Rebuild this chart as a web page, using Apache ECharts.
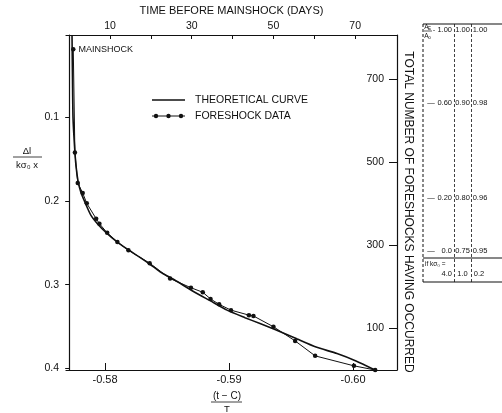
<!DOCTYPE html>
<html><head><meta charset="utf-8">
<script src="https://cdn.jsdelivr.net/npm/echarts@6/dist/echarts.min.js"></script>
<style>html,body{margin:0;padding:0;background:#fff}#c{width:502px;height:413px}</style>
</head><body><div id="c"></div>
<script>
// Theoretical curve: x = (t-C)/T, y = Δl/(kσ0 x)
const theoX = [-0.57734,-0.57738,-0.57742,-0.57754,-0.57766,-0.57782,-0.57806,-0.57839,-0.57887,-0.57944,-0.58016,-0.58097,-0.58177,-0.58282,-0.58363,-0.58444,-0.58565,-0.58710,-0.58847,-0.58984,-0.59129,-0.59250,-0.59371,-0.59532,-0.59702,-0.59871,-0.60024,-0.60177];
const theoY = [0.0015,0.0562,0.1004,0.1337,0.1576,0.1755,0.1898,0.2017,0.2172,0.2280,0.2387,0.2488,0.2571,0.2673,0.2756,0.2846,0.2947,0.3078,0.3191,0.3304,0.3394,0.3465,0.3537,0.3638,0.3746,0.3823,0.3912,0.4020];
// Foreshock data: days before mainshock, total number of foreshocks
const fsDays = [1.0,1.4,2.1,3.3,4.3,6.6,7.4,9.3,11.8,14.5,19.7,24.7,29.8,32.7,34.6,36.7,39.6,44.0,45.1,50.0,55.3,60.2,69.7,74.9];
const fsCount = [772,523,450,426,401,364,352,330,308,288,257,220,198,187,171,158,144,132,130,104,70,34,10,0];
// tick labels
const bottomTicks = [-0.58,-0.59,-0.60];
const leftTicks = [0.1,0.2,0.3,0.4];
const topTicks = [10,20,30,40,50,60,70];
const topLabels = [10,30,50,70];
const rightTicks = [100,300,500,700];
// legend names
const seriesNames = ['THEORETICAL CURVE','FORESHOCK DATA'];
// side table
const tableRows = [["0.60","0.90","0.98"],["0.20","0.80","0.96"],["0.0","0.75","0.95"]];
const tableHead = ["- 1.00","1.00","1.00"];
const tableK = ["4.0","1.0","0.2"];

const FONT = 'Liberation Sans';
const INK = '#111';
const chart = echarts.init(document.getElementById('c'), null, {renderer:'canvas'});

const rowY = [103,198,251];
const colX = [452, 462.5, 480];
const tg = [];
function t(text,x,y,size,align,extra){ tg.push(Object.assign({type:'text',x:x,y:y,style:{text:text,fill:INK,font:size+'px '+FONT,textAlign:align||'center',textVerticalAlign:'middle'}},extra||{})); }
function ln(x1,y1,x2,y2,dash,w){ tg.push({type:'line',shape:{x1:x1,y1:y1,x2:x2,y2:y2},style:{stroke:INK,lineWidth:w||1,lineDash:dash||null}}); }
function dot(x,y,r){ tg.push({type:'circle',shape:{cx:x,cy:y,r:r},style:{fill:INK}}); }
// legend (drawn as graphics to reproduce the sample styles)
ln(152,100,185,100,null,1.6); t(seriesNames[0],195,100,10.5,'left');
ln(152,116,185,116,null,1); dot(156,116,2.2); dot(168.5,116,2.2); dot(181,116,2.2); t(seriesNames[1],195,116,10.5,'left');
// table
ln(423,24,502,24,null,1.2); ln(423,282,502,282,null,1.2); ln(423,258,502,258,null,1);
ln(423,24,423,282,[3,2],1); ln(454.5,24,454.5,282,[3,2],0.8); ln(471.5,24,471.5,282,[3,2],0.8);
t('A',426.5,27,6.5,'center'); t('E',429.5,28.5,4.5,'center');
ln(424,31,432,31,null,0.7);
t('A',426.5,36,6.5,'center'); t('o',429.5,37.5,4.5,'center');
t(tableHead[0],452,30,7.5,'right'); t(tableHead[1],colX[1],30,7.5); t(tableHead[2],colX[2],30,7.5);
tableRows.forEach((r,i)=>{ t('—',431,rowY[i],7.5); t(r[0],452,rowY[i],7.5,'right'); t(r[1],colX[1],rowY[i],7.5); t(r[2],colX[2],rowY[i],7.5); });
t('if kσ₀ =',425,264,6.5,'left');
t(tableK[0],452,274,7.5,'right'); t(tableK[1],colX[1],274,7.5); t(tableK[2],colX[2]-1,274,7.5);
// left title fraction
t('Δl',27,151,9.5); ln(13,157,42,157,null,0.8); t('kσ₀ x',27,165,9.5);
// bottom title fraction
t('(t − C)',227,396,10); ln(211,402,242,402,null,0.8); t('T',227,409,9.5);
// right title
t('TOTAL NUMBER OF FORESHOCKS HAVING OCCURRED',408,212,12,'center',{rotation:-Math.PI/2});

const axisCommon = {
  axisLine:{show:true,lineStyle:{color:INK,width:1.2}},
  axisTick:{show:true,lineStyle:{color:INK,width:1}},
  axisLabel:{color:INK,fontFamily:FONT,fontSize:10.5},
  splitLine:{show:false}
};

chart.setOption({
  animation:false,
  backgroundColor:'#fff',
  textStyle:{fontFamily:FONT,color:INK},
  grid:{left:66,right:105,top:34,bottom:43,containLabel:false},
  xAxis:[
    Object.assign({},axisCommon,{type:'value',position:'bottom',inverse:true,min:-0.603548,max:-0.576855,
      axisTick:{show:true,inside:true,length:7,customValues:bottomTicks,lineStyle:{color:INK}},
      axisLabel:{color:INK,fontFamily:FONT,fontSize:11,margin:4,customValues:bottomTicks,formatter:v=>v.toFixed(2)}}),
    Object.assign({},axisCommon,{type:'value',position:'top',min:-0.78,max:80.24,
      name:'TIME BEFORE MAINSHOCK (DAYS)',nameLocation:'middle',nameGap:19,
      nameTextStyle:{fontFamily:FONT,fontSize:11,color:INK},
      axisTick:{show:true,inside:true,length:4,customValues:topTicks,lineStyle:{color:INK}},
      axisLabel:{color:INK,fontFamily:FONT,fontSize:10.5,margin:3,customValues:topLabels}})
  ],
  yAxis:[
    Object.assign({},axisCommon,{type:'value',position:'left',inverse:true,min:0.0014,max:0.402,
      axisTick:{show:true,inside:false,length:4,customValues:leftTicks,lineStyle:{color:INK}},
      axisLabel:{color:INK,fontFamily:FONT,fontSize:10.5,margin:7,customValues:leftTicks,formatter:v=>v.toFixed(1)}}),
    Object.assign({},axisCommon,{type:'value',position:'right',min:0,max:806,
      axisTick:{show:true,inside:true,length:8,customValues:rightTicks,lineStyle:{color:INK}},
      axisLabel:{color:INK,fontFamily:FONT,fontSize:10.5,inside:true,margin:13,customValues:rightTicks}})
  ],
  series:[
    {name:seriesNames[0],type:'line',xAxisIndex:0,yAxisIndex:0,smooth:0.2,showSymbol:false,symbol:'none',
      lineStyle:{color:INK,width:1.6},itemStyle:{color:INK},
      data:theoX.map((x,i)=>[x,theoY[i]])},
    {name:seriesNames[1],type:'line',xAxisIndex:1,yAxisIndex:1,symbol:'circle',symbolSize:4.5,
      lineStyle:{color:INK,width:1},itemStyle:{color:INK},
      data:fsDays.map((d,i)=>{
        const item={value:[d,fsCount[i]]};
        if(i===0) item.label={show:true,formatter:'MAINSHOCK',position:'right',distance:3,fontFamily:FONT,fontSize:9,color:INK};
        return item;})}
  ],
  graphic:tg
});
</script></body></html>
